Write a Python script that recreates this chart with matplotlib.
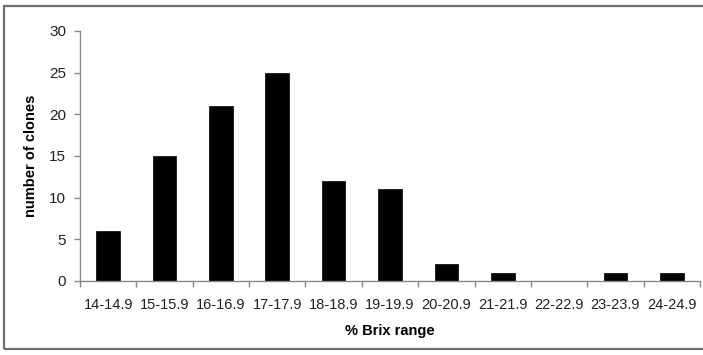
import matplotlib
matplotlib.use("Agg")
import matplotlib.pyplot as plt
from matplotlib.patches import Rectangle
import numpy as np

# clone counts per Brix class
brix_ranges = ["14-14.9", "15-15.9", "16-16.9", "17-17.9", "18-18.9", "19-19.9",
               "20-20.9", "21-21.9", "22-22.9", "23-23.9", "24-24.9"]
clone_counts = [6, 15, 21, 25, 12, 11, 2, 1, 0, 1, 1]

plt.rcParams["font.family"] = ["Liberation Sans", "DejaVu Sans"]

W, H = 703, 355
fig = plt.figure(figsize=(W / 100, H / 100), dpi=100)
ax = fig.add_axes([80 / W, 1 - 281 / H, 620 / W, 250 / H])

x = np.arange(len(brix_ranges))
ax.bar(x, clone_counts, width=0.42, color="black", edgecolor="black", linewidth=0.5)

ax.set_xlim(-0.5, len(brix_ranges) - 0.5)
ax.set_ylim(0, 30)
ax.set_yticks(range(0, 31, 5))
ax.set_xticks(x)
ax.set_xticklabels(brix_ranges, fontsize=10.5, color="#222222")
ax.set_xticks(np.arange(-0.5, len(brix_ranges)), minor=True)
ax.tick_params(axis="x", which="major", length=0, pad=12)
ax.tick_params(axis="x", which="minor", length=4, width=1, color="#888888", direction="out")
ax.tick_params(axis="y", length=4, width=1, color="#888888", labelsize=11,
               labelcolor="#222222", pad=6)

for side in ("top", "right"):
    ax.spines[side].set_visible(False)
for side in ("left", "bottom"):
    ax.spines[side].set_color("#888888")
    ax.spines[side].set_linewidth(1)

ax.set_xlabel("% Brix range", fontsize=10.5, fontweight="bold", labelpad=9)
ax.set_ylabel("number of clones", fontsize=10.5, fontweight="bold", labelpad=8)

# outer frame
fig.patches.append(Rectangle((4 / W, 1 - 349 / H), 705 / W, 343 / H,
                             transform=fig.transFigure, fill=False,
                             edgecolor="#6e6e6e", linewidth=1.6))

fig.savefig("out.png", dpi=100)
